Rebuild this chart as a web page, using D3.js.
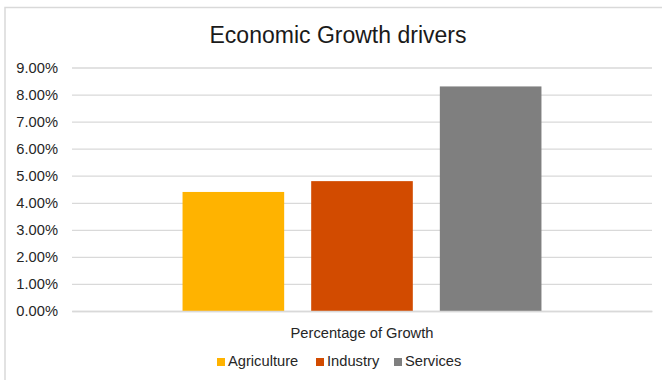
<!DOCTYPE html>
<html>
<head>
<meta charset="utf-8">
<script src="https://cdn.jsdelivr.net/npm/d3@7"></script>
<style>
  html, body { margin: 0; padding: 0; background: #fff; }
  svg { display: block; font-family: "Liberation Sans", Arial, sans-serif; }
</style>
</head>
<body>
<svg id="chart" width="662" height="380"></svg>
<script>
const title = "Economic Growth drivers";
const categories = ["Percentage of Growth"];
const seriesNames = ["Agriculture", "Industry", "Services"];
const seriesValues = [0.044, 0.048, 0.083];
const seriesColors = ["#FFB300", "#D24B00", "#7F7F7F"];
const yTicks = [0, 0.01, 0.02, 0.03, 0.04, 0.05, 0.06, 0.07, 0.08, 0.09];

const svg = d3.select("#chart");
const W = 662, H = 380;
const plot = { left: 72, right: 652, top: 67.5, bottom: 311 };

svg.append("rect").attr("width", W).attr("height", H).attr("fill", "#fff");
// chart area border (partially visible)
svg.append("path")
  .attr("d", `M5,380 V7.5 H662`)
  .attr("fill", "none").attr("stroke", "#d9d9d9").attr("stroke-width", 1.5);

const y = d3.scaleLinear().domain([0, 0.09]).range([plot.bottom, plot.top]);
const x0 = d3.scaleBand().domain(categories).range([plot.left, plot.right])
  .paddingInner(0).paddingOuter(0.308);
const x1 = d3.scaleBand().domain(seriesNames).range([0, x0.bandwidth()])
  .paddingInner(0.21).paddingOuter(0);

// gridlines
const yAxis = d3.axisLeft(y).tickValues(yTicks).tickFormat(d3.format(".2%"))
  .tickSize(-(plot.right - plot.left)).tickPadding(14);
const gy = svg.append("g").attr("transform", `translate(${plot.left},0)`).call(yAxis);
gy.select(".domain").remove();
gy.selectAll(".tick line").attr("stroke", "#d9d9d9").attr("stroke-width", 1.3);
gy.selectAll(".tick text").attr("fill", "#262626").attr("font-size", "14.7px")
  .attr("font-family", "Liberation Sans, Arial, sans-serif");

// bars
const data = seriesNames.map((s, i) => ({ cat: categories[0], name: s, value: seriesValues[i], color: seriesColors[i] }));
svg.append("g").selectAll("rect").data(data).join("rect")
  .attr("x", d => x0(d.cat) + x1(d.name))
  .attr("width", x1.bandwidth())
  .attr("y", d => y(d.value))
  .attr("height", d => y(0) - y(d.value))
  .attr("fill", d => d.color);

// baseline axis
const xAxis = d3.axisBottom(x0).tickSize(0).tickPadding(17);
const gx = svg.append("g").attr("transform", `translate(0,${plot.bottom})`).call(xAxis);
gx.select(".domain").attr("stroke", "#d9d9d9").attr("stroke-width", 1.3);
gx.selectAll(".tick text").attr("fill", "#262626").attr("font-size", "14.7px")
  .attr("font-family", "Liberation Sans, Arial, sans-serif");

// title
svg.append("text").attr("x", 338).attr("y", 43).attr("text-anchor", "middle")
  .attr("font-size", "23px").attr("fill", "#1a1a1a").text(title);

// legend
const legendX = [217, 316, 394];
const lg = svg.append("g").selectAll("g").data(data).join("g")
  .attr("transform", (d, i) => `translate(${legendX[i]},358)`);
lg.append("rect").attr("width", 8).attr("height", 8).attr("fill", d => d.color);
lg.append("text").attr("x", 11).attr("y", 7.5).attr("font-size", "14.7px")
  .attr("fill", "#262626").text(d => d.name);
</script>
</body>
</html>
